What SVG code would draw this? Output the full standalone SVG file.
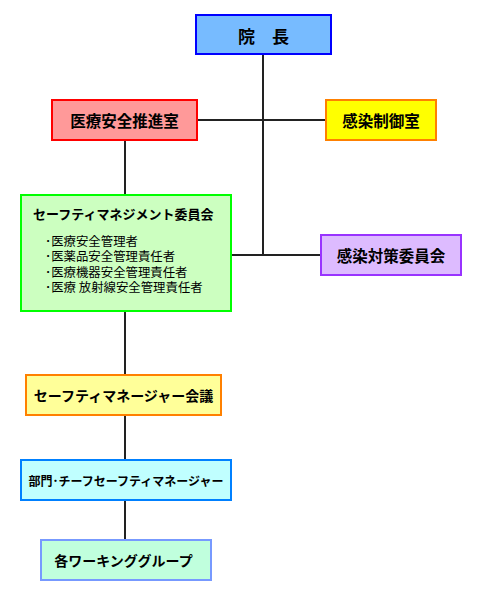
<svg xmlns="http://www.w3.org/2000/svg" width="480" height="600" viewBox="0 0 480 600">
<style>
rect{stroke-width:2}
text{font-family:"Noto Sans CJK JP","Noto Sans",sans-serif;fill:#000;dominant-baseline:central}
.t{font-weight:bold;text-anchor:middle}
.i{font-size:12.4px}
.l{stroke:#222;stroke-width:2;fill:none}
</style>
<rect width="480" height="600" fill="#fff" stroke="none"/>
<g id="connectors">
<line class="l" x1="263" y1="55" x2="263" y2="255"/>
<line class="l" x1="197" y1="120" x2="326" y2="120"/>
<line class="l" x1="125" y1="141" x2="125" y2="195"/>
<line class="l" x1="231" y1="255" x2="321" y2="255"/>
<line class="l" x1="125" y1="311" x2="125" y2="375"/>
<line class="l" x1="125" y1="415" x2="125" y2="460"/>
<line class="l" x1="125" y1="500" x2="125" y2="540"/>
</g>
<g id="director">
<rect x="196" y="15" width="135" height="39" fill="#77bbff" stroke="#0000ff"/>
<text class="t" x="263.5" y="35" font-size="17">院　長</text>
</g>
<g id="safety-office">
<rect x="52" y="100" width="145" height="40" fill="#ff9999" stroke="#ff0000"/>
<text class="t" x="124.5" y="120" font-size="15.5">医療安全推進室</text>
</g>
<g id="infection-office">
<rect x="326" y="100" width="110" height="40" fill="#ffff00" stroke="#ff8000"/>
<text class="t" x="381" y="120" font-size="15.5">感染制御室</text>
</g>
<g id="safety-committee">
<rect x="21" y="195" width="210" height="116" fill="#ccffc0" stroke="#00ff00"/>
<text x="33" y="213" font-size="13" font-weight="bold">セーフティマネジメント委員会</text>
<text class="i" x="45" y="241">･医療安全管理者</text>
<text class="i" x="45" y="256.3">･医薬品安全管理責任者</text>
<text class="i" x="45" y="271.6">･医療機器安全管理責任者</text>
<text class="i" x="45" y="286.9">･医療 放射線安全管理責任者</text>
</g>
<g id="infection-committee">
<rect x="321" y="235" width="140" height="40" fill="#ddbbff" stroke="#9933ff"/>
<text class="t" x="391" y="255" font-size="15.5">感染対策委員会</text>
</g>
<g id="manager-meeting">
<rect x="26" y="375" width="195" height="40" fill="#ffff99" stroke="#ff8000"/>
<text class="t" x="123.5" y="395" font-size="14">セーフティマネージャー会議</text>
</g>
<g id="chief-manager">
<rect x="21" y="460" width="210" height="40" fill="#c0ffff" stroke="#0080ff"/>
<text class="t" x="126" y="480" font-size="12">部門･チーフセーフティマネージャー</text>
</g>
<g id="working-groups">
<rect x="41" y="540" width="170" height="40" fill="#c0ffdd" stroke="#7799ff"/>
<text class="t" x="123.5" y="560" font-size="14">各ワーキンググループ</text>
</g>
</svg>
